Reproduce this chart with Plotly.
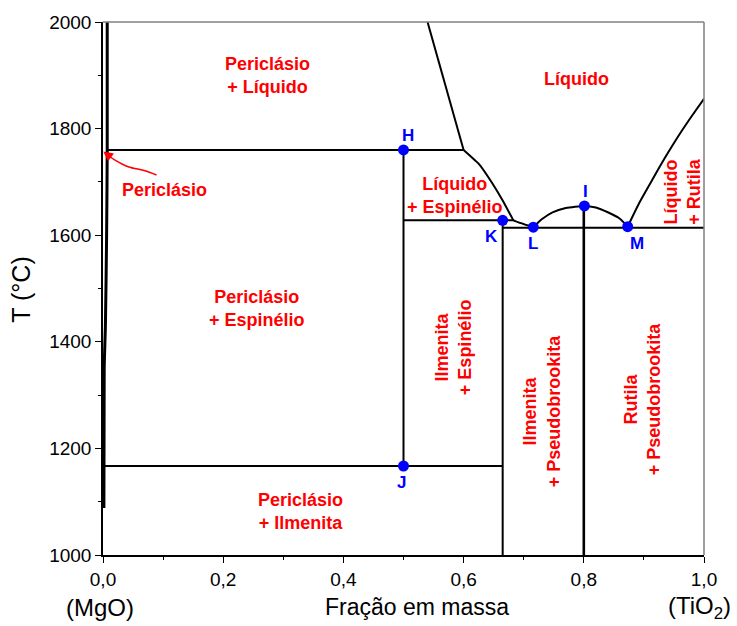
import plotly.graph_objects as go

# --- Phase diagram MgO - TiO2 (mass fraction of TiO2 vs temperature) ---

# Boundary curves (x = mass fraction TiO2, y = temperature in °C)
solvus_x = [0.007, 0.007, 0.006, 0.004, 0.002, 0.0015]
solvus_y = [2000, 1760, 1600, 1430, 1350, 1088]

liq_upper_x = [0.540, 0.600]
liq_upper_y = [2000, 1760]

liq_spinel_x = [0.600, 0.626, 0.648, 0.665, 0.679, 0.683, 0.716]
liq_spinel_y = [1760, 1733, 1697, 1665, 1636, 1628, 1615]

dome_x = [0.716, 0.730, 0.748, 0.770, 0.801, 0.820, 0.840, 0.860, 0.873]
dome_y = [1615, 1630, 1643, 1651, 1655, 1652, 1643, 1631, 1616]

liq_rutile_x = [0.873, 0.892, 0.914, 0.936, 0.9585, 0.9806, 1.0]
liq_rutile_y = [1616, 1660, 1704, 1747, 1788, 1825, 1856]

# Straight isotherms and vertical compound lines: (x0, x1, y0, y1)
segments = [
    (0.007, 0.600, 1760, 1760),
    (0.500, 0.683, 1628, 1628),
    (0.665, 1.000, 1614, 1614),
    (0.000, 0.665, 1167, 1167),
    (0.500, 0.500, 1760, 1167),
    (0.665, 0.665, 1628, 1000),
    (0.800, 0.800, 1655, 1000),
]

# Invariant points
pt_names = ["H", "J", "K", "L", "I", "M"]
pt_x = [0.500, 0.500, 0.665, 0.716, 0.801, 0.873]
pt_y = [1760, 1167, 1628, 1615, 1655, 1616]
pt_lbl_x = [0.508, 0.497, 0.6456, 0.716, 0.803, 0.888]
pt_lbl_y = [1788, 1136, 1597, 1584, 1682, 1584]

# Phase-field labels: text, x, y, angle
fields = [
    ("Periclásio<br>+ Líquido", 0.2745, 1899, 0),
    ("Líquido", 0.7875, 1893, 0),
    ("Periclásio", 0.1015, 1685, 0),
    ("Líquido<br>+ Espinélio", 0.585, 1675, 0),
    ("Líquido<br>+ Rutila", 0.964, 1682, -90),
    ("Periclásio<br>+ Espinélio", 0.256, 1463, 0),
    ("Ilmenita<br>+ Espinélio", 0.5824, 1390, -90),
    ("Ilmenita<br>+ Pseudobrookita", 0.7299, 1271, -90),
    ("Rutila<br>+ Pseudobrookita", 0.8977, 1293, -90),
    ("Periclásio<br>+ Ilmenita", 0.328, 1081, 0),
]

# Pointer from the "Periclásio" label to the narrow periclase field
arrow_x = [0.089, 0.070, 0.042, 0.020, 0.008]
arrow_y = [1713, 1721, 1728.5, 1741, 1750]

x_ticks = [0.0, 0.2, 0.4, 0.6, 0.8, 1.0]
x_ticktext = ["0,0", "0,2", "0,4", "0,6", "0,8", "1,0"]
y_ticks = [1000, 1200, 1400, 1600, 1800, 2000]

FONT = "Arial, Liberation Sans, sans-serif"
RED = "#ff0000"
BLUE = "#0000ff"

fig = go.Figure()

for cx, cy, w, sm in [
    (solvus_x, solvus_y, 3, 0.6),
    (liq_upper_x, liq_upper_y, 2, 0.6),
    (liq_spinel_x, liq_spinel_y, 2, 0.4),
    (dome_x, dome_y, 2, 0.6),
    (liq_rutile_x, liq_rutile_y, 2, 0.6),
]:
    fig.add_trace(go.Scatter(x=cx, y=cy, mode="lines",
                             line=dict(color="black", width=w, shape="spline", smoothing=sm),
                             hoverinfo="skip", showlegend=False))

for x0, x1, y0, y1 in segments:
    w = 2.6 if (x0 == x1 == 0.8) else 2
    fig.add_trace(go.Scatter(x=[x0, x1], y=[y0, y1], mode="lines",
                             line=dict(color="black", width=w),
                             hoverinfo="skip", showlegend=False))

# red pointer line
fig.add_trace(go.Scatter(x=arrow_x, y=arrow_y, mode="lines",
                         line=dict(color=RED, width=1.5, shape="spline"),
                         hoverinfo="skip", showlegend=False))
fig.add_annotation(x=0.0005, y=1757, ax=arrow_x[-1] + 0.004, ay=arrow_y[-1] - 3,
                   xref="x", yref="y", axref="x", ayref="y", text="",
                   showarrow=True, arrowhead=2, arrowsize=1.3, arrowwidth=1.5,
                   arrowcolor=RED)

fig.add_trace(go.Scatter(x=pt_x, y=pt_y, mode="markers",
                         marker=dict(color=BLUE, size=11),
                         hoverinfo="skip", showlegend=False))

for name, lx, ly in zip(pt_names, pt_lbl_x, pt_lbl_y):
    fig.add_annotation(x=lx, y=ly, text=f"<b>{name}</b>", showarrow=False,
                       font=dict(family=FONT, size=17, color=BLUE))

for text, fx, fy, ang in fields:
    fig.add_annotation(x=fx, y=fy, text=f"<b>{text}</b>", showarrow=False,
                       textangle=ang,
                       font=dict(family=FONT, size=18, color=RED))

# axis titles and end-member labels
for txt, px, sz in [("Fração em massa", 0.522, 23), ("(MgO)", -0.005, 24),
                    ("(TiO<sub>2</sub>)", 0.993, 24)]:
    fig.add_annotation(xref="paper", yref="paper", x=px, y=-0.0976,
                       xanchor="center", yanchor="middle",
                       text=txt, showarrow=False,
                       font=dict(family=FONT, size=sz, color="black"))
fig.add_annotation(xref="paper", yref="paper", x=-0.137, y=0.497,
                   xanchor="center", yanchor="middle",
                   text="T (°C)", showarrow=False, textangle=-90,
                   font=dict(family=FONT, size=25, color="black"))

# grey top/right frame
fig.add_shape(type="line", xref="paper", yref="paper", x0=0, x1=1, y0=1, y1=1,
              line=dict(color="#808080", width=1.5))
fig.add_shape(type="line", xref="paper", yref="paper", x0=1, x1=1, y0=0, y1=1,
              line=dict(color="#808080", width=1.5))

axis_common = dict(showgrid=False, zeroline=False, showline=True,
                   linecolor="black", linewidth=1.5, ticks="outside",
                   ticklen=6, tickwidth=1, tickcolor="black",
                   tickfont=dict(family=FONT, size=19, color="black"))

fig.update_xaxes(range=[0, 1], tickvals=x_ticks, ticktext=x_ticktext,
                 minor=dict(dtick=0.1, ticks="outside", ticklen=3, tickcolor="black"),
                 **axis_common)
fig.update_yaxes(range=[1000, 2000], tickvals=y_ticks,
                 minor=dict(dtick=100, ticks="outside", ticklen=3, tickcolor="black"),
                 **axis_common)

fig.update_layout(width=737, height=626,
                  margin=dict(l=103, r=33, t=22, b=71),
                  paper_bgcolor="white", plot_bgcolor="white",
                  showlegend=False)

fig.write_html("out.html")
